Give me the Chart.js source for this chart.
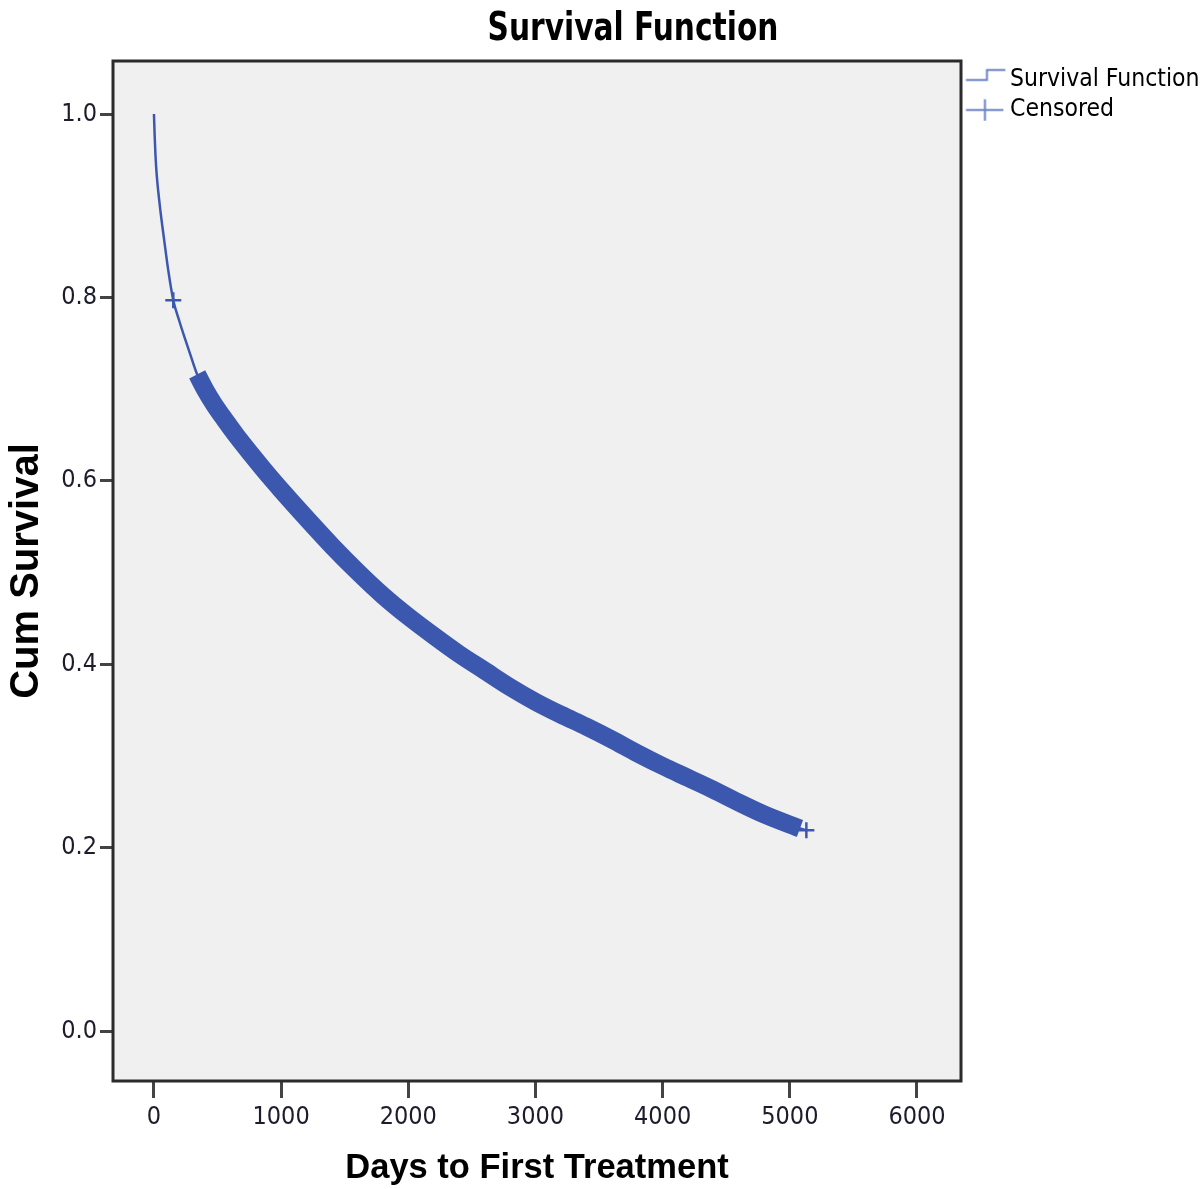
<!DOCTYPE html>
<html>
<head>
<meta charset="utf-8">
<title>Survival Function</title>
<script src="https://cdn.jsdelivr.net/npm/chart.js@4.4.1/dist/chart.umd.min.js"></script>
<style>
  html, body { margin: 0; padding: 0; background: #fff; }
  #chart { display: block; }
</style>
</head>
<body>
<canvas id="chart" width="1204" height="1189"></canvas>
<script>
// Kaplan-Meier estimate
var survivalDays = [0, 6, 12, 21, 47, 81, 112, 152, 200, 244, 290, 340, 400, 470, 560, 650, 770,
  900, 1000, 1200, 1400, 1600, 1800, 2000, 2200, 2400, 2600, 2800, 3000, 3200, 3400, 3600, 3800,
  4000, 4200, 4400, 4600, 4800, 5000, 5080, 5130];
var survivalValues = [1.0, 0.975, 0.955, 0.935, 0.899, 0.862, 0.830, 0.797, 0.774, 0.755, 0.736,
  0.716, 0.700, 0.684, 0.666, 0.649, 0.628, 0.606, 0.590, 0.559, 0.529, 0.501, 0.475, 0.452,
  0.431, 0.411, 0.393, 0.375, 0.359, 0.345, 0.332, 0.318, 0.303, 0.289, 0.276, 0.263, 0.249,
  0.236, 0.225, 0.221, 0.219];

// censored cases so dense from day 340 on that the marks merge into one band
var denseCensorFrom = 340;
var denseCensorTo = 5080;

// single censor marks that stand out
var censoredDays = [152, 5130];
var censoredValues = [0.797, 0.219];

var xTicks = [0, 1000, 2000, 3000, 4000, 5000, 6000];
var yTicks = [0.0, 0.2, 0.4, 0.6, 0.8, 1.0];

var lineColor = "#3c58ae";
var legendColor = "#6d82c4";
var narrow = "'Liberation Sans Narrow', 'DejaVu Sans Condensed', sans-serif";

var survivalPoints = survivalDays.map(function(d, i) {
  return { x: d, y: survivalValues[i] };
});
var bandPoints = survivalPoints.filter(function(p) {
  return p.x >= denseCensorFrom && p.x <= denseCensorTo;
});
var censoredPoints = censoredDays.map(function(d, i) {
  return { x: d, y: censoredValues[i] };
});

// legend icons
function makeIcon(draw) {
  var c = document.createElement("canvas");
  c.width = 52;
  c.height = 30;
  var g = c.getContext("2d");
  g.strokeStyle = legendColor;
  g.lineWidth = 2;
  g.beginPath();
  draw(g);
  g.stroke();
  return c;
}
var survivalIcon = makeIcon(function(g) {
  g.moveTo(9.6, 15.75);
  g.lineTo(30.6, 15.75);
  g.lineTo(30.6, 5.75);
  g.lineTo(49, 5.75);
});
var censorIcon = makeIcon(function(g) {
  g.moveTo(9.6, 15.25);
  g.lineTo(47, 15.25);
  g.moveTo(28.6, 4.5);
  g.lineTo(28.6, 26);
});

var framePlugin = {
  id: "frame",
  beforeDatasetsDraw: function(chart) {
    var a = chart.chartArea, ctx = chart.ctx;
    ctx.save();
    ctx.fillStyle = "#f0f0f0";
    ctx.fillRect(a.left, a.top, a.right - a.left, a.bottom - a.top);
    ctx.restore();
  },
  afterDatasetsDraw: function(chart) {
    var a = chart.chartArea, ctx = chart.ctx;
    ctx.save();
    ctx.strokeStyle = "#2b2b2b";
    ctx.lineWidth = 3;
    ctx.strokeRect(a.left, a.top, a.right - a.left, a.bottom - a.top);
    // chart title, a little taller than wide like the original
    ctx.fillStyle = "#000";
    ctx.font = "bold 33px " + narrow;
    ctx.textAlign = "center";
    ctx.textBaseline = "middle";
    ctx.translate(633, 30);
    ctx.scale(1, 1.2);
    ctx.fillText("Survival Function", 0, 0);
    ctx.restore();
  }
};

var chart = new Chart(document.getElementById("chart"), {
  type: "line",
  data: {
    datasets: [
      {
        label: "Survival Function",
        data: survivalPoints,
        borderColor: lineColor,
        borderWidth: 2.5,
        pointRadius: 0,
        cubicInterpolationMode: "monotone"
      },
      {
        label: "Censored band",
        data: bandPoints,
        borderColor: lineColor,
        borderWidth: 18,
        borderJoinStyle: "round",
        borderCapStyle: "butt",
        pointRadius: 0,
        cubicInterpolationMode: "monotone"
      },
      {
        label: "Censored",
        data: censoredPoints,
        showLine: false,
        pointStyle: "cross",
        pointRadius: 8,
        pointBorderWidth: 2.5,
        pointBorderColor: lineColor,
        pointBackgroundColor: lineColor
      }
    ]
  },
  options: {
    responsive: false,
    animation: false,
    layout: { padding: { top: 61, left: 0, right: 0, bottom: 0 } },
    plugins: {
      title: { display: false },
      tooltip: { enabled: false },
      legend: {
        position: "right",
        align: "start",
        maxWidth: 243,
        labels: {
          usePointStyle: true,
          pointStyleWidth: 30.75,
          padding: 6,
          color: "#000",
          font: { family: narrow, size: 24.5, lineHeight: 1 },
          generateLabels: function() {
            return [
              { text: "Survival Function", pointStyle: survivalIcon, fillStyle: legendColor,
                strokeStyle: legendColor, lineWidth: 0, hidden: false, datasetIndex: 0 },
              { text: "Censored", pointStyle: censorIcon, fillStyle: legendColor,
                strokeStyle: legendColor, lineWidth: 0, hidden: false, datasetIndex: 2 }
            ];
          }
        }
      }
    },
    scales: {
      x: {
        type: "linear",
        min: -322,
        max: 6346,
        afterFit: function(scale) { scale.height = 108; },
        afterBuildTicks: function(scale) {
          scale.ticks = xTicks.map(function(v) { return { value: v }; });
        },
        ticks: {
          padding: 4,
          color: "#1c1c2c",
          font: { family: narrow, size: 25 },
          maxRotation: 0,
          autoSkip: false,
          callback: function(v) { return String(v); }
        },
        grid: {
          drawOnChartArea: false,
          drawTicks: true,
          tickLength: 17,
          tickWidth: 3,
          tickColor: "#444"
        },
        border: { display: false },
        title: {
          display: true,
          text: "Days to First Treatment",
          color: "#000",
          font: { family: "'Liberation Sans', Arial, sans-serif", size: 34.5, weight: "bold", lineHeight: 1 },
          padding: { top: 0, bottom: 3 }
        }
      },
      y: {
        type: "linear",
        min: -0.0545,
        max: 1.0578,
        afterFit: function(scale) { scale.width = 113; },
        afterBuildTicks: function(scale) {
          scale.ticks = yTicks.map(function(v) { return { value: v }; });
        },
        ticks: {
          padding: 3,
          color: "#1c1c2c",
          font: { family: narrow, size: 25 },
          autoSkip: false,
          callback: function(v) { return v.toFixed(1); }
        },
        grid: {
          drawOnChartArea: false,
          drawTicks: true,
          tickLength: 13,
          tickWidth: 3,
          tickColor: "#444"
        },
        border: { display: false },
        title: {
          display: true,
          text: "Cum Survival",
          color: "#000",
          font: { family: "'Liberation Sans', Arial, sans-serif", size: 40, weight: "bold", lineHeight: 1 },
          padding: { top: 7, bottom: 0 }
        }
      }
    }
  },
  plugins: [framePlugin]
});
</script>
</body>
</html>
